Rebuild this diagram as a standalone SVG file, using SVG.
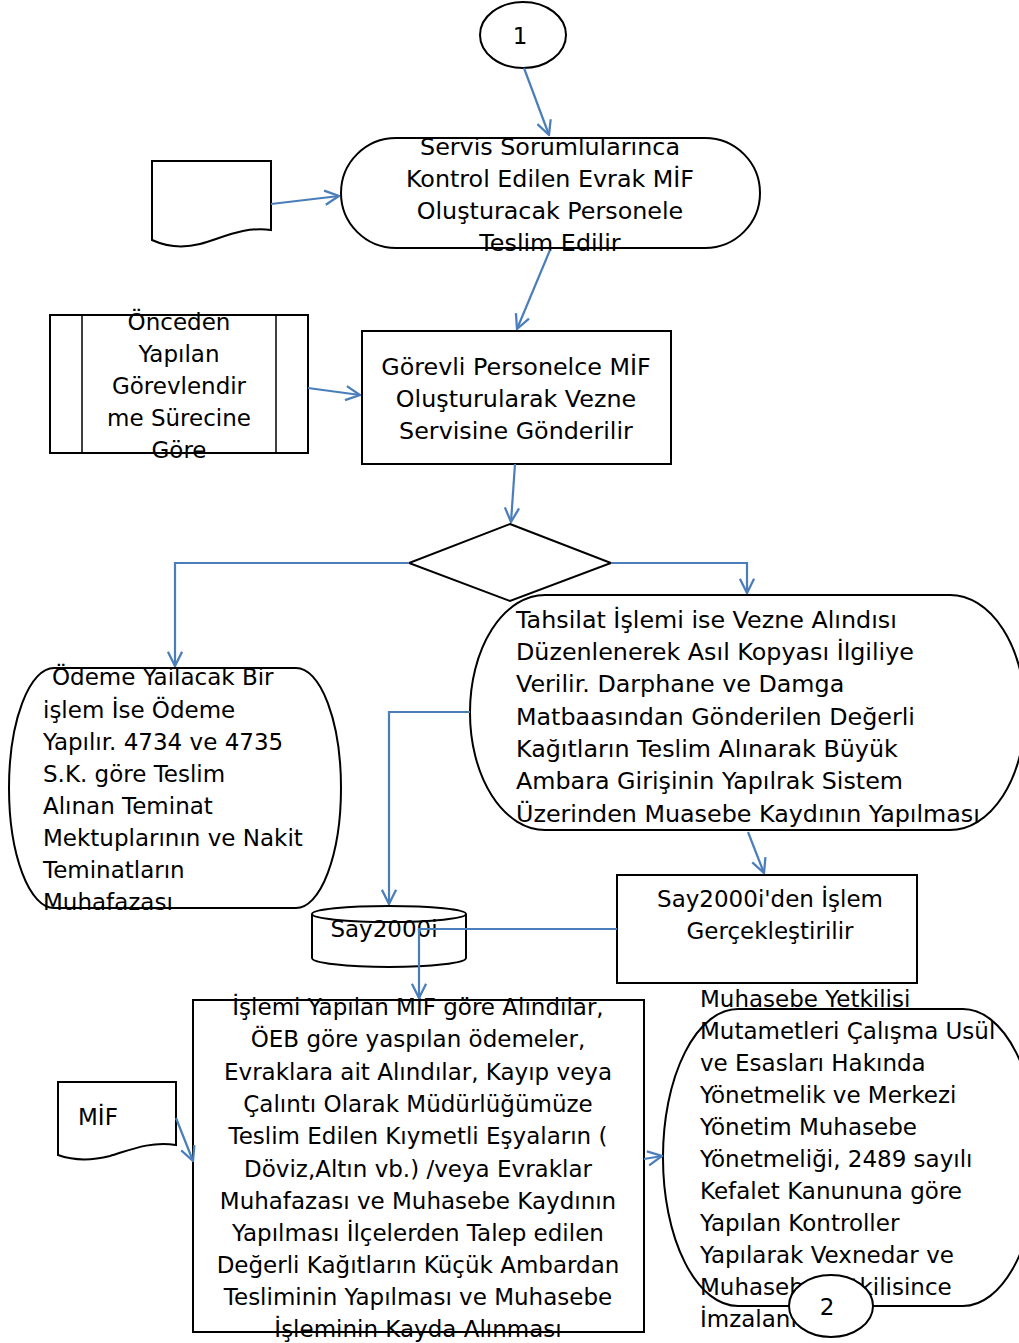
<svg xmlns="http://www.w3.org/2000/svg" width="1019" height="1343" viewBox="0 0 1019 1343">
<style>
.s{fill:#fff;stroke:#000;stroke-width:2}
.t{font-family:"DejaVu Sans",Verdana,sans-serif;font-size:23px;fill:#000}
.w{font-size:23.8px}
.c{text-anchor:middle}
.k{fill:none;stroke:#4A7EBB;stroke-width:2.2}
</style>
<defs>
<marker id="a" viewBox="0 0 12 12" refX="11" refY="6" markerWidth="17" markerHeight="17" orient="auto" markerUnits="userSpaceOnUse">
<path d="M1,1 L11,6 L1,11" fill="none" stroke="#4A7EBB" stroke-width="1.6"/>
</marker>
</defs>
<rect width="1019" height="1343" fill="#fff"/>

<g id="n1">
<ellipse class="s" cx="523" cy="35" rx="43" ry="33"/>
<text class="t c" x="520" y="44" font-size="24">1</text>
</g>

<g id="doc1">
<path class="s" d="M152,161 H271 V230 C245,226 222,238 200,244 C180,249 165,246 152,240 Z"/>
</g>

<g id="term1">
<rect class="s" x="341" y="138" width="419" height="110" rx="55" ry="55"/>
<text class="t w c" x="550" y="155">Servis Sorumlularınca</text>
<text class="t w c" x="550" y="187">Kontrol Edilen Evrak MİF</text>
<text class="t w c" x="550" y="219">Oluşturacak Personele</text>
<text class="t w c" x="550" y="251">Teslim Edilir</text>
</g>

<g id="pre1">
<rect class="s" x="50" y="315" width="258" height="138"/>
<line x1="82" y1="315" x2="82" y2="453" stroke="#000" stroke-width="1.5"/>
<line x1="276" y1="315" x2="276" y2="453" stroke="#000" stroke-width="1.5"/>
<text class="t c" x="179" y="330">Önceden</text>
<text class="t c" x="179" y="362">Yapılan</text>
<text class="t c" x="179" y="394">Görevlendir</text>
<text class="t c" x="179" y="426">me Sürecine</text>
<text class="t c" x="179" y="458">Göre</text>
</g>

<g id="proc1">
<rect class="s" x="362" y="331" width="309" height="133"/>
<text class="t w c" x="516" y="375">Görevli Personelce MİF</text>
<text class="t w c" x="516" y="407">Oluşturularak Vezne</text>
<text class="t w c" x="516" y="439">Servisine Gönderilir</text>
</g>

<g id="dec1">
<path class="s" d="M510,524 L611,563 L510,601 L409,563 Z"/>
</g>

<g id="odeme">
<rect class="s" x="9" y="668" width="332" height="240" rx="45" ry="120"/>
<text class="t" x="52" y="685">Ödeme Yailacak Bir</text>
<text class="t" x="43" y="718">işlem İse Ödeme</text>
<text class="t" x="43" y="750">Yapılır. 4734 ve 4735</text>
<text class="t" x="43" y="782">S.K. göre Teslim</text>
<text class="t" x="43" y="814">Alınan Teminat</text>
<text class="t" x="43" y="846">Mektuplarının ve Nakit</text>
<text class="t" x="43" y="878">Teminatların</text>
<text class="t" x="43" y="910">Muhafazası</text>
</g>

<g id="tahsilat">
<rect class="s" x="470" y="595" width="555" height="235" rx="75" ry="117"/>
<text class="t w" x="516" y="628">Tahsilat İşlemi ise Vezne Alındısı</text>
<text class="t w" x="516" y="660">Düzenlenerek Asıl Kopyası İlgiliye</text>
<text class="t w" x="516" y="692">Verilir. Darphane ve Damga</text>
<text class="t w" x="516" y="725">Matbaasından Gönderilen Değerli</text>
<text class="t w" x="516" y="757">Kağıtların Teslim Alınarak Büyük</text>
<text class="t w" x="516" y="789">Ambara Girişinin Yapılrak Sistem</text>
<text class="t w" x="516" y="822">Üzerinden Muasebe Kaydının Yapılması</text>
</g>

<g id="say">
<path class="s" d="M312,914 V958 A77,9 0 0 0 466,958 V914"/>
<ellipse class="s" cx="389" cy="914" rx="77" ry="8"/>
<text class="t c" x="384" y="937">Say2000i</text>
</g>

<g id="sayislem">
<rect class="s" x="617" y="875" width="300" height="108"/>
<text class="t c" x="770" y="907">Say2000i'den İşlem</text>
<text class="t c" x="770" y="939">Gerçekleştirilir</text>
</g>

<g id="mif">
<path class="s" d="M58,1082 H176 V1145 C150,1141 130,1150 110,1156 C90,1161 72,1160 58,1155 Z"/>
<text class="t" x="78" y="1125">MİF</text>
</g>

<g id="big">
<rect class="s" x="193" y="1000" width="451" height="332"/>
<text class="t c" x="418" y="1015">İşlemi Yapılan MİF göre Alındılar,</text>
<text class="t c" x="418" y="1047">ÖEB göre yaspılan ödemeler,</text>
<text class="t c" x="418" y="1080">Evraklara ait Alındılar, Kayıp veya</text>
<text class="t c" x="418" y="1112">Çalıntı Olarak Müdürlüğümüze</text>
<text class="t c" x="418" y="1144">Teslim Edilen Kıymetli Eşyaların (</text>
<text class="t c" x="418" y="1177">Döviz,Altın vb.) /veya Evraklar</text>
<text class="t c" x="418" y="1209">Muhafazası ve Muhasebe Kaydının</text>
<text class="t c" x="418" y="1241">Yapılması İlçelerden Talep edilen</text>
<text class="t c" x="418" y="1273">Değerli Kağıtların Küçük Ambardan</text>
<text class="t c" x="418" y="1305">Tesliminin Yapılması ve Muhasebe</text>
<text class="t c" x="418" y="1337">İşleminin Kayda Alınması</text>
</g>

<g id="muhasebe">
<rect class="s" x="663" y="1009" width="375" height="297" rx="75" ry="148"/>
<text class="t" x="700" y="1007">Muhasebe Yetkilisi</text>
<text class="t" x="700" y="1039">Mutametleri Çalışma Usül</text>
<text class="t" x="700" y="1071">ve Esasları Hakında</text>
<text class="t" x="700" y="1103">Yönetmelik ve Merkezi</text>
<text class="t" x="700" y="1135">Yönetim Muhasebe</text>
<text class="t" x="700" y="1167">Yönetmeliği, 2489 sayılı</text>
<text class="t" x="700" y="1199">Kefalet Kanununa göre</text>
<text class="t" x="700" y="1231">Yapılan Kontroller</text>
<text class="t" x="700" y="1263">Yapılarak Vexnedar ve</text>
<text class="t" x="700" y="1295">Muhasebe Yetkilisince</text>
<text class="t" x="700" y="1327">İmzalanır</text>
</g>

<g id="connectors">
<path class="k" d="M524,68 L549,135" marker-end="url(#a)"/>
<path class="k" d="M271,204 L339,196" marker-end="url(#a)"/>
<path class="k" d="M550,250 L517,329" marker-end="url(#a)"/>
<path class="k" d="M308,388 L360,395" marker-end="url(#a)"/>
<path class="k" d="M515,464 L511,522" marker-end="url(#a)"/>
<path class="k" d="M409,563 H175 V666" marker-end="url(#a)"/>
<path class="k" d="M611,563 H747 V593" marker-end="url(#a)"/>
<path class="k" d="M470,712 H389 V904" marker-end="url(#a)"/>
<path class="k" d="M748,832 L764,873" marker-end="url(#a)"/>
<path class="k" d="M617,929 H419 V998" marker-end="url(#a)"/>
<path class="k" d="M176,1118 L193,1161" marker-end="url(#a)"/>
<path class="k" d="M644,1159 L662,1156" marker-end="url(#a)"/>
</g>

<g id="n2">
<ellipse class="s" cx="831" cy="1306" rx="42" ry="31"/>
<text class="t c" x="827" y="1315" font-size="24">2</text>
</g>
</svg>
